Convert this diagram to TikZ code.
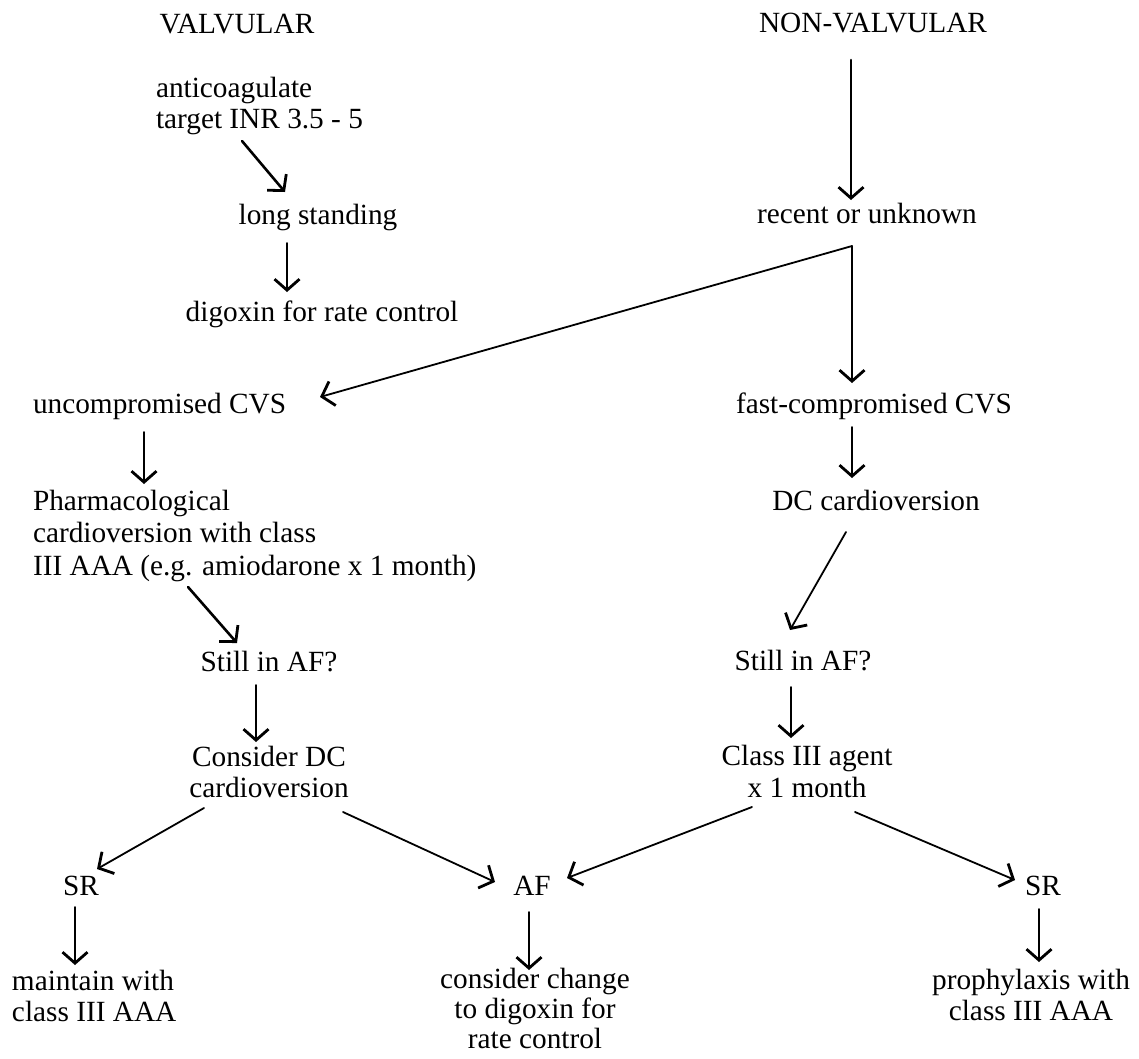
\documentclass[tikz,border=0pt]{standalone}
\usepackage{fontspec}
\setmainfont{Liberation Serif}
\usetikzlibrary{arrows.meta}
\begin{document}
\begin{tikzpicture}[x=1pt,y=-1pt,
  lbl/.style={inner sep=0pt, outer sep=0pt, font=\fontsize{29.3}{31}\selectfont},
  arr/.style={line width=1.8pt, line cap=round, -{Straight Barb[length=11pt,width=25pt,line width=2.8pt]}},
  thickarr/.style={arr, line width=2.6pt},
]
\useasboundingbox (0,0) rectangle (1139,1058);

% left column (multi-line nodes are anchored at the baseline of their last line)
\node[lbl, anchor=base] (valv) at (237,33) {VALVULAR};
\node[lbl, anchor=base west, align=left] (anti) at (156,128) {anticoagulate\\target INR 3.5 - 5};
\node[lbl, anchor=base] (long) at (318,224) {long standing};
\node[lbl, anchor=base] (dig) at (322,321) {digoxin for rate control};
\node[lbl, anchor=base west] (uncomp) at (33,413) {uncompromised CVS};
\node[lbl, anchor=base west, align=left, font=\fontsize{29.3}{32.5}\selectfont] (pharm) at (33,575) {Pharmacological\\cardioversion with class\\III AAA (e.g. amiodarone x 1 month)};
\node[lbl, anchor=base] (still1) at (269,671) {Still in AF?};
\node[lbl, anchor=base, align=center, font=\fontsize{29.3}{30.5}\selectfont] (cons) at (269,797) {Consider DC\\cardioversion};
\node[lbl, anchor=base] (sr1) at (81,895) {SR};
\node[lbl, anchor=base west, align=left] (maint) at (12,1021) {maintain with\\class III AAA};
\node[lbl, anchor=base] (af) at (532,895) {AF};
\node[lbl, anchor=base, align=center, font=\fontsize{29.3}{30}\selectfont] (chg) at (535,1048) {consider change\\to digoxin for\\rate control};

% right column
\node[lbl, anchor=base] (nonv) at (873,32) {NON-VALVULAR};
\node[lbl, anchor=base] (recent) at (867,223) {recent or unknown};
\node[lbl, anchor=base] (fast) at (874,413) {fast-compromised CVS};
\node[lbl, anchor=base] (dc) at (876,510) {DC cardioversion};
\node[lbl, anchor=base] (still2) at (803,670) {Still in AF?};
\node[lbl, anchor=base, align=center, font=\fontsize{29.3}{31.5}\selectfont] (cls) at (807,797) {Class III agent\\x 1 month};
\node[lbl, anchor=base] (sr2) at (1043,895) {SR};
\node[lbl, anchor=base, align=center, font=\fontsize{29.3}{30.5}\selectfont] (proph) at (1031,1020) {prophylaxis with\\class III AAA};

% connectors
\draw[thickarr] ([shift={(86,13)}]anti.base west) -- ([shift={(-33,-32)}]long.base);
\draw[arr] ([shift={(-31,19)}]long.base) -- ([shift={(-35,-29)}]dig.base);
\draw[thickarr] ([shift={(-22,28)}]nonv.base) -- ([shift={(-16,-23)}]recent.base);
\draw[arr] ([shift={(-15,23)}]recent.base) -- ([shift={(287,-16)}]uncomp.base west);
\draw[arr] ([shift={(-15,23)}]recent.base) -- ([shift={(-22,-30)}]fast.base);
\draw[arr] ([shift={(111,19)}]uncomp.base west) -- ([shift={(111,-91)}]pharm.base west);
\draw[arr] ([shift={(-22,14)}]fast.base) -- ([shift={(-24,-32)}]dc.base);
\draw[thickarr] ([shift={(155,12)}]pharm.base west) -- ([shift={(-32,-28)}]still1.base);
\draw[arr] ([shift={(-30,22)}]dc.base) -- ([shift={(-13,-40)}]still2.base);
\draw[arr] ([shift={(-13,14)}]still1.base) -- ([shift={(-13,-55)}]cons.base);
\draw[arr] ([shift={(-12,17)}]still2.base) -- ([shift={(-16,-59)}]cls.base);
\draw[arr] ([shift={(-65,11)}]cons.base) -- ([shift={(16,-26)}]sr1.base);
\draw[arr] ([shift={(74,15)}]cons.base) -- ([shift={(-37,-13)}]af.base);
\draw[arr] ([shift={(-55,10)}]cls.base) -- ([shift={(35,-17)}]af.base);
\draw[arr] ([shift={(48,15)}]cls.base) -- ([shift={(-28,-15)}]sr2.base);
\draw[arr] ([shift={(-6,12)}]sr1.base) -- ([shift={(63,-56)}]maint.base west);
\draw[arr] ([shift={(-3,17)}]af.base) -- ([shift={(-6,-78)}]chg.base);
\draw[arr] ([shift={(-4,14)}]sr2.base) -- ([shift={(8,-58)}]proph.base);
\end{tikzpicture}
\end{document}
